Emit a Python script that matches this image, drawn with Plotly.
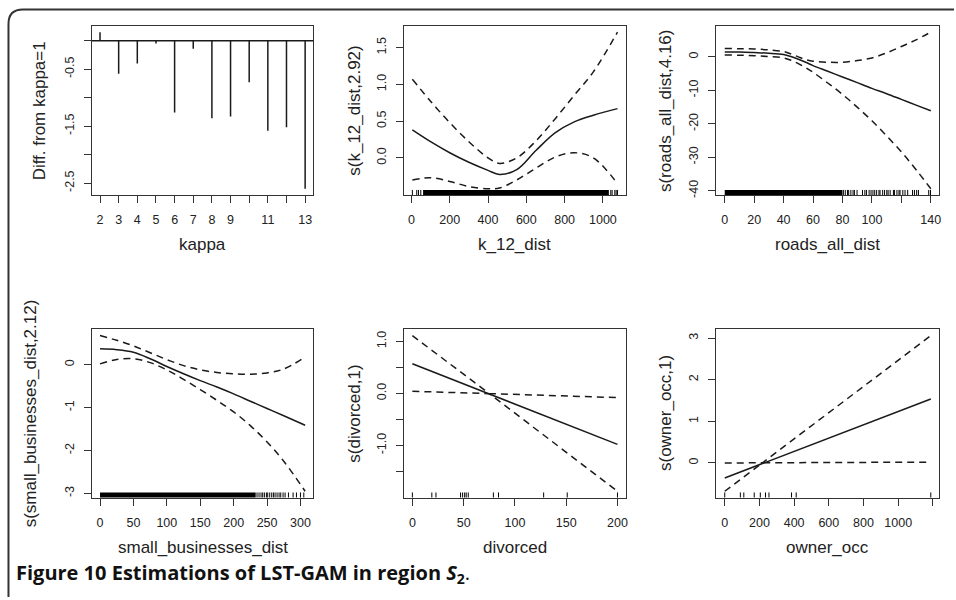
import plotly.graph_objects as go

W, H = 956, 600

# ---------------- data ----------------
# panel 1: GCV difference relative to kappa = 1
kappa = [2, 3, 4, 5, 6, 7, 8, 9, 10, 11, 12, 13]
kappa_diff = [0.15, -0.58, -0.40, -0.05, -1.26, -0.14, -1.36, -1.33, -0.73, -1.58, -1.52, -2.60]

# panel 2: smooth of k_12_dist
k12_x = [5, 100, 200, 300, 400, 460, 550, 650, 750, 850, 950, 1076]
k12_fit = [0.38, 0.22, 0.07, -0.06, -0.17, -0.225, -0.16, 0.10, 0.34, 0.49, 0.58, 0.67]
k12_up = [1.07, 0.77, 0.48, 0.22, 0.00, -0.075, 0.00, 0.23, 0.53, 0.85, 1.17, 1.71]
k12_lo = [-0.30, -0.27, -0.32, -0.39, -0.42, -0.41, -0.30, -0.14, 0.01, 0.07, 0.00, -0.35]
k12_rug_dense = [(61, 1031)]
k12_rug = [5, 28, 37, 49, 1041, 1048, 1062, 1069, 1076]

# panel 3: smooth of roads_all_dist
roads_x = [0, 10, 20, 30, 40, 45, 50, 55, 60, 70, 80, 90, 100, 110, 120, 130, 140]
roads_fit = [1.5, 1.45, 1.3, 1.1, 0.7, 0.1, -0.7, -1.6, -2.6, -4.3, -6.0, -7.7, -9.4, -11.0, -12.7, -14.4, -16.1]
roads_up = [2.5, 2.45, 2.35, 2.1, 1.6, 0.9, 0.0, -0.8, -1.3, -1.6, -1.6, -1.1, -0.3, 1.2, 3.1, 5.1, 7.4]
roads_lo = [0.6, 0.5, 0.35, 0.1, -0.3, -1.0, -2.0, -3.2, -4.6, -7.8, -11.2, -15.0, -19.1, -23.6, -28.4, -33.7, -39.4]
roads_rug_dense = [(0, 80)]
roads_rug = [80.6, 81.9, 83.4, 84.2, 85.7, 87.2, 88.1, 89.9, 93.6, 95.2, 96.3, 98.1,
             99.4, 100.7, 101.9, 103.2, 104.8, 105.5, 107.3, 108.6, 110.1, 111.0,
             112.4, 114.6, 115.3, 117.0, 118.4, 119.1, 121.0, 122.5, 124.3, 127.6,
             128.9, 130.4, 131.6, 138.6, 139.8]

# panel 4: smooth of small_businesses_dist
sb_x = [0, 25, 50, 75, 100, 125, 150, 175, 200, 225, 250, 275, 307]
sb_fit = [0.37, 0.35, 0.29, 0.14, -0.04, -0.21, -0.37, -0.52, -0.68, -0.85, -1.02, -1.19, -1.41]
sb_up = [0.68, 0.57, 0.44, 0.28, 0.12, -0.02, -0.12, -0.18, -0.21, -0.22, -0.19, -0.10, 0.18]
sb_lo = [0.02, 0.12, 0.14, 0.05, -0.12, -0.34, -0.58, -0.83, -1.10, -1.42, -1.80, -2.25, -2.95]
sb_rug_dense = [(0, 233)]
sb_rug = [235, 238, 241, 243.5, 246, 249, 251, 254, 257, 259.5, 262, 265, 268,
          270.5, 274, 277, 282, 289, 294, 300, 305]

# panel 5: linear term in divorced
div_x = [0, 75, 200]
div_fit = [0.57, -0.015, -0.98]
div_up = [1.11, -0.005, -0.08]
div_lo = [0.04, -0.005, -1.88]
div_rug = [0, 19, 23, 47, 49, 51, 52.5, 54.5, 79, 84, 128, 151, 200]

# panel 6: linear term in owner_occ
own_x = [0, 218, 1188]
own_fit = [-0.36, -0.013, 1.535]
own_up = [0.0, 0.004, 3.06]
own_lo = [-0.68, 0.004, 0.02]
own_rug = [0, 90, 110, 170, 205, 235, 255, 385, 412, 1188]

# axis ticks and labels
p1_xt, p1_xl = kappa, ["2", "3", "4", "5", "6", "7", "8", "9", "", "11", "", "13"]
p1_yt, p1_yl = [0, -0.5, -1, -1.5, -2, -2.5], ["", "-0.5", "", "-1.5", "", "-2.5"]
p2_xt = [0, 200, 400, 600, 800, 1000]
p2_yt, p2_yl = [0, 0.5, 1.0, 1.5], ["0.0", "0.5", "1.0", "1.5"]
p3_xt, p3_xl = [0, 20, 40, 60, 80, 100, 120, 140], ["0", "20", "40", "60", "80", "100", "", "140"]
p3_yt = [0, -10, -20, -30, -40]
p4_xt = [0, 50, 100, 150, 200, 250, 300]
p4_yt = [0, -1, -2, -3]
p5_xt = [0, 50, 100, 150, 200]
p5_yt, p5_yl = [1.0, 0.5, 0.0, -0.5, -1.0, -1.5, -2.0], ["1.0", "", "0.0", "", "-1.0", "", "-2.0"]
p6_xt, p6_xl = [0, 200, 400, 600, 800, 1000, 1200], ["0", "200", "400", "600", "800", "1000", ""]
p6_yt = [0, 1, 2, 3]

x_titles = ["kappa", "k_12_dist", "roads_all_dist", "small_businesses_dist", "divorced", "owner_occ"]
y_titles = ["Diff. from kappa=1", "s(k_12_dist,2.92)", "s(roads_all_dist,4.16)",
            "s(small_businesses_dist,2.12)", "s(divorced,1)", "s(owner_occ,1)"]

# ---------------- layout geometry (pixels) ----------------
cols = [(92, 314), (405, 627), (718, 941)]
rows = [(26, 196), (331, 500)]
ytitle_x = [40, 355, 667, 30, 355, 667]
xtitle_y = [246, 550]

INK = "#1a1a1a"
FRAME = "#333333"
TICKFONT = dict(family="Liberation Sans, Arial, sans-serif", size=12.5, color="#222")
TITLEFONT = dict(family="Liberation Sans, Arial, sans-serif", size=17, color="#222")
DASH = "7px,5px"
LW = 1.5


def expand(lo, hi, f=0.04):
    d = (hi - lo) * f
    return [lo - d, hi + d]


def fmt(vals):
    return [("%g" % v) for v in vals]


fig = go.Figure()
layout = dict(width=W, height=H, margin=dict(l=0, r=0, t=0, b=0),
              paper_bgcolor="white", plot_bgcolor="white", showlegend=False)
shapes = []
annotations = []

panels = [
    dict(xt=p1_xt, xl=p1_xl, yt=p1_yt, yl=p1_yl,
         xlim=(min(kappa), max(kappa)), ylim=(min(kappa_diff), max(kappa_diff))),
    dict(xt=p2_xt, xl=fmt(p2_xt), yt=p2_yt, yl=p2_yl, curves=(k12_x, k12_fit, k12_up, k12_lo),
         dense=k12_rug_dense, rug=k12_rug),
    dict(xt=p3_xt, xl=p3_xl, yt=p3_yt, yl=fmt(p3_yt), curves=(roads_x, roads_fit, roads_up, roads_lo),
         dense=roads_rug_dense, rug=roads_rug),
    dict(xt=p4_xt, xl=fmt(p4_xt), yt=p4_yt, yl=fmt(p4_yt), curves=(sb_x, sb_fit, sb_up, sb_lo),
         dense=sb_rug_dense, rug=sb_rug),
    dict(xt=p5_xt, xl=fmt(p5_xt), yt=p5_yt, yl=p5_yl, curves=(div_x, div_fit, div_up, div_lo),
         dense=[], rug=div_rug, linear=True),
    dict(xt=p6_xt, xl=p6_xl, yt=p6_yt, yl=fmt(p6_yt), curves=(own_x, own_fit, own_up, own_lo),
         dense=[], rug=own_rug, linear=True),
]

for i, p in enumerate(panels):
    n = i + 1
    sfx = "" if n == 1 else str(n)
    xa, ya = "x" + sfx, "y" + sfx
    c0, c1 = cols[i % 3]
    r0, r1 = rows[i // 3]

    if "curves" in p:
        cx, fit, up, lo = p["curves"]
        xlim = (min(cx), max(cx))
        ylim = (min(fit + up + lo), max(fit + up + lo))
        shape = "linear" if p.get("linear") else "spline"
        fig.add_trace(go.Scatter(x=cx, y=fit, mode="lines", xaxis=xa, yaxis=ya,
                                 line=dict(color=INK, width=LW, shape=shape)))
        for band in (up, lo):
            fig.add_trace(go.Scatter(x=cx, y=band, mode="lines", xaxis=xa, yaxis=ya,
                                     line=dict(color=INK, width=LW, dash=DASH, shape=shape)))
        # rug of observed covariate values along the bottom edge
        for a, b in p["dense"]:
            shapes.append(dict(type="rect", xref=xa, yref=ya + " domain", x0=a, x1=b, y0=0, y1=0.03,
                               fillcolor="black", line=dict(width=0)))
        for v in p["rug"]:
            shapes.append(dict(type="line", xref=xa, yref=ya + " domain", x0=v, x1=v, y0=0, y1=0.03,
                               line=dict(color="black", width=1)))
    else:
        xlim, ylim = p["xlim"], p["ylim"]
        # vertical spikes from zero
        sx, sy = [], []
        for k, d in zip(kappa, kappa_diff):
            sx += [k, k, None]
            sy += [0, d, None]
        fig.add_trace(go.Scatter(x=sx, y=sy, mode="lines", xaxis=xa, yaxis=ya,
                                 line=dict(color=INK, width=LW)))
        shapes.append(dict(type="line", xref=xa + " domain", yref=ya, x0=0, x1=1, y0=0, y1=0,
                           line=dict(color=INK, width=LW)))

    axis_common = dict(showgrid=False, zeroline=False, showline=True, mirror=True,
                       linecolor=FRAME, linewidth=1.4, ticks="outside", ticklen=7,
                       tickwidth=1.2, tickcolor=FRAME, tickfont=TICKFONT, tickmode="array")
    layout["xaxis" + sfx] = dict(axis_common, domain=[c0 / W, c1 / W], anchor=ya,
                                 range=expand(*xlim), tickvals=p["xt"], ticktext=p["xl"],
                                 ticklabelstandoff=6)
    layout["yaxis" + sfx] = dict(axis_common, domain=[1 - r1 / H, 1 - r0 / H], anchor=xa,
                                 range=expand(*ylim), tickvals=p["yt"], ticktext=p["yl"],
                                 tickangle=-90, ticklabelstandoff=5)

    annotations.append(dict(text=x_titles[i], xref="paper", yref="paper",
                            x=(c0 + c1) / 2 / W, y=1 - xtitle_y[i // 3] / H,
                            xanchor="center", yanchor="middle", showarrow=False, font=TITLEFONT))
    annotations.append(dict(text=y_titles[i], xref="paper", yref="paper",
                            x=ytitle_x[i] / W, y=1 - (r0 + r1) / 2 / H, textangle=-90,
                            xanchor="center", yanchor="middle", showarrow=False, font=TITLEFONT))

# caption
annotations.append(dict(text="<b>Figure 10 Estimations of LST-GAM in region <i>S</i><sub>2</sub></b>.",
                        xref="paper", yref="paper", x=14 / W, y=1 - 576 / H,
                        xanchor="left", yanchor="middle", showarrow=False,
                        font=dict(family="Open Sans, sans-serif", size=20, color="#111")))

# outer frame with a rounded top-left corner
def px(x, y):
    return "%.5f,%.5f" % (x / W, 1 - y / H)

shapes.append(dict(type="path", xref="paper", yref="paper",
                   path="M %s L %s Q %s %s L %s" % (px(8.5, 600), px(8.5, 24), px(8.5, 9.5),
                                                   px(23, 9.5), px(956, 9.5)),
                   line=dict(color=FRAME, width=2)))

layout["shapes"] = shapes
layout["annotations"] = annotations
fig.update_layout(**layout)
fig.write_html("out.html")
